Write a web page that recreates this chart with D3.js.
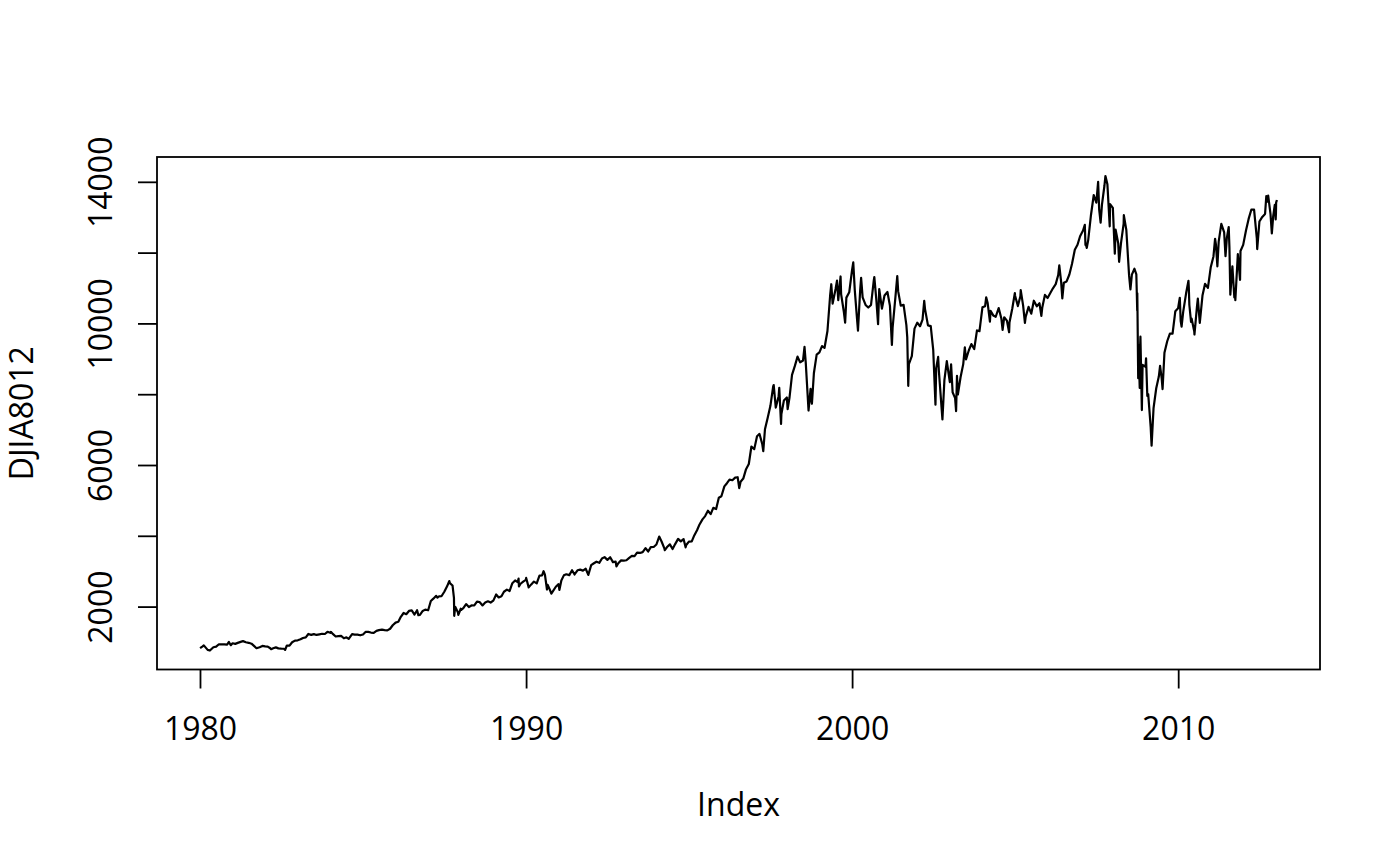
<!DOCTYPE html>
<html>
<head>
<meta charset="utf-8">
<script src="https://cdn.jsdelivr.net/npm/d3@7"></script>
<style>
  html, body { margin: 0; padding: 0; background: #ffffff; }
  svg text { font-family: "Open Sans", "Noto Sans", sans-serif; fill: #000; }
</style>
</head>
<body>
<svg id="chart" width="1400" height="866"></svg>
<script>
// ---- data (DJIA closes) ----
const dates = [
"1980-01-02","1980-01-31","1980-02-13","1980-03-27","1980-04-21","1980-05-30","1980-06-30","1980-07-31","1980-08-29","1980-09-30","1980-10-31","1980-11-20","1980-12-11","1980-12-31",
"1981-01-30","1981-02-27","1981-03-31","1981-04-27","1981-05-29","1981-06-30","1981-07-31","1981-08-31","1981-09-25","1981-10-30","1981-11-30","1981-12-31",
"1982-01-29","1982-02-26","1982-03-08","1982-03-31","1982-04-30","1982-05-28","1982-06-30","1982-07-30","1982-08-12","1982-08-31","1982-09-30","1982-10-29","1982-11-30","1982-12-31",
"1983-01-31","1983-02-28","1983-03-31","1983-04-29","1983-05-31","1983-06-30","1983-07-29","1983-08-31","1983-09-30","1983-10-31","1983-11-29","1983-12-30",
"1984-01-06","1984-01-31","1984-02-29","1984-03-30","1984-04-30","1984-05-31","1984-06-29","1984-07-24","1984-08-31","1984-09-28","1984-10-31","1984-11-30","1984-12-31",
"1985-01-31","1985-02-28","1985-03-29","1985-04-30","1985-05-31","1985-06-28","1985-07-31","1985-08-30","1985-09-30","1985-10-31","1985-11-29","1985-12-31",
"1986-01-31","1986-02-28","1986-03-31","1986-04-30","1986-05-30","1986-06-30","1986-07-31","1986-08-29","1986-09-12","1986-09-30","1986-10-31","1986-11-28","1986-12-31",
"1987-01-30","1987-02-27","1987-03-31","1987-04-14","1987-04-30","1987-05-29","1987-06-30","1987-07-31","1987-08-25","1987-08-31","1987-09-30","1987-10-16","1987-10-19","1987-10-30","1987-11-30","1987-12-04","1987-12-31",
"1988-01-08","1988-01-29","1988-02-29","1988-03-31","1988-04-29","1988-05-31","1988-06-30","1988-07-29","1988-08-31","1988-09-30","1988-10-31","1988-11-30","1988-12-30",
"1989-01-31","1989-02-28","1989-03-31","1989-04-28","1989-05-31","1989-06-30","1989-07-31","1989-08-31","1989-09-29","1989-10-09","1989-10-13","1989-10-31","1989-11-30","1989-12-29",
"1990-01-02","1990-01-30","1990-02-28","1990-03-30","1990-04-30","1990-05-31","1990-06-29","1990-07-16","1990-07-31","1990-08-23","1990-08-31","1990-09-28","1990-10-11","1990-10-31","1990-11-30","1990-12-31",
"1991-01-09","1991-01-31","1991-02-28","1991-03-28","1991-04-30","1991-05-31","1991-06-28","1991-07-31","1991-08-30","1991-09-30","1991-10-31","1991-11-29","1991-12-31",
"1992-01-31","1992-02-28","1992-03-31","1992-04-30","1992-05-29","1992-06-30","1992-07-31","1992-08-31","1992-09-30","1992-10-09","1992-10-30","1992-11-30","1992-12-31",
"1993-01-29","1993-02-26","1993-03-31","1993-04-30","1993-05-28","1993-06-30","1993-07-30","1993-08-31","1993-09-30","1993-10-29","1993-11-30","1993-12-31",
"1994-01-31","1994-02-28","1994-03-31","1994-04-04","1994-04-29","1994-05-31","1994-06-30","1994-07-29","1994-08-31","1994-09-30","1994-10-31","1994-11-23","1994-11-30","1994-12-30",
"1995-01-31","1995-02-28","1995-03-31","1995-04-28","1995-05-31","1995-06-30","1995-07-31","1995-08-31","1995-09-29","1995-10-31","1995-11-30","1995-12-29",
"1996-01-31","1996-02-29","1996-03-29","1996-04-30","1996-05-31","1996-06-28","1996-07-16","1996-07-31","1996-08-30","1996-09-30","1996-10-31","1996-11-29","1996-12-31",
"1997-01-31","1997-02-28","1997-03-31","1997-04-11","1997-04-30","1997-05-30","1997-06-30","1997-07-31","1997-08-06","1997-08-29","1997-09-30","1997-10-07","1997-10-27","1997-10-31","1997-11-28","1997-12-31",
"1998-01-09","1998-01-30","1998-02-27","1998-03-31","1998-04-30","1998-05-29","1998-06-30","1998-07-17","1998-07-31","1998-08-31","1998-09-23","1998-09-30","1998-10-08","1998-10-30","1998-11-30","1998-12-31",
"1999-01-29","1999-02-26","1999-03-31","1999-04-30","1999-05-13","1999-05-28","1999-06-30","1999-07-16","1999-07-30","1999-08-25","1999-08-31","1999-09-30","1999-10-15","1999-10-29","1999-11-30","1999-12-31",
"2000-01-14","2000-01-31","2000-02-28","2000-03-07","2000-03-31","2000-04-11","2000-04-28","2000-05-31","2000-06-30","2000-07-31","2000-08-31","2000-09-06","2000-09-29","2000-10-18","2000-10-31","2000-11-30","2000-12-29",
"2001-01-31","2001-02-28","2001-03-22","2001-03-30","2001-04-30","2001-05-21","2001-05-31","2001-06-29","2001-07-31","2001-08-31","2001-09-10","2001-09-21","2001-09-28","2001-10-31","2001-11-30","2001-12-31",
"2002-01-31","2002-02-28","2002-03-19","2002-03-28","2002-04-30","2002-05-31","2002-06-28","2002-07-23","2002-07-31","2002-08-22","2002-08-30","2002-09-30","2002-10-09","2002-10-31","2002-11-27","2002-11-29","2002-12-31",
"2003-01-14","2003-01-31","2003-02-28","2003-03-11","2003-03-21","2003-03-31","2003-04-30","2003-05-30","2003-06-17","2003-06-30","2003-07-31","2003-08-29","2003-09-30","2003-10-31","2003-11-28","2003-12-31",
"2004-01-30","2004-02-11","2004-02-27","2004-03-24","2004-03-31","2004-04-30","2004-05-28","2004-06-30","2004-07-30","2004-08-13","2004-08-31","2004-09-30","2004-10-25","2004-10-29","2004-11-30","2004-12-28","2004-12-31",
"2005-01-31","2005-02-28","2005-03-04","2005-03-31","2005-04-20","2005-04-29","2005-05-31","2005-06-30","2005-07-29","2005-08-31","2005-09-30","2005-10-21","2005-10-31","2005-11-30","2005-12-30",
"2006-01-31","2006-02-28","2006-03-31","2006-04-28","2006-05-10","2006-05-31","2006-06-13","2006-06-30","2006-07-31","2006-08-31","2006-09-29","2006-10-31","2006-11-30","2006-12-29",
"2007-01-31","2007-02-20","2007-02-27","2007-02-28","2007-03-14","2007-03-30","2007-04-30","2007-05-31","2007-06-29","2007-07-19","2007-07-31","2007-08-16","2007-08-31","2007-09-28","2007-10-09","2007-10-31","2007-11-26","2007-11-30","2007-12-31",
"2008-01-22","2008-01-31","2008-02-29","2008-03-10","2008-03-31","2008-04-30","2008-05-02","2008-05-30","2008-06-30","2008-07-15","2008-07-31","2008-08-29","2008-09-19","2008-09-29","2008-09-30","2008-10-10","2008-10-13","2008-10-27","2008-10-31","2008-11-04","2008-11-20","2008-11-28","2008-12-31",
"2009-01-06","2009-01-20","2009-01-30","2009-02-27","2009-03-09","2009-03-31","2009-04-30","2009-05-29","2009-06-12","2009-06-30","2009-07-10","2009-07-31","2009-08-31","2009-09-30","2009-10-30","2009-11-30","2009-12-31",
"2010-01-19","2010-01-29","2010-02-08","2010-02-26","2010-03-31","2010-04-26","2010-04-30","2010-05-06","2010-05-25","2010-05-31","2010-06-30","2010-07-02","2010-07-30","2010-08-09","2010-08-31","2010-09-30","2010-10-29","2010-11-30","2010-12-31",
"2011-01-31","2011-02-18","2011-02-28","2011-03-16","2011-03-31","2011-04-29","2011-05-31","2011-06-15","2011-06-30","2011-07-21","2011-07-29","2011-08-08","2011-08-31","2011-09-22","2011-09-30","2011-10-03","2011-10-31","2011-11-25","2011-11-30","2011-12-30",
"2012-01-31","2012-02-29","2012-03-30","2012-04-30","2012-05-31","2012-06-04","2012-06-29","2012-07-31","2012-08-31","2012-09-14","2012-09-28","2012-10-05","2012-10-31","2012-11-15","2012-11-30","2012-12-18","2012-12-28","2012-12-31",
"2013-01-02","2013-01-11"
];
const closes = [
824,876,904,777,759,851,868,935,933,932,925,1000,909,964,
947,975,1004,1024,992,977,952,882,824,853,889,875,
871,824,795,823,848,820,812,809,777,901,896,992,1039,1047,
1076,1113,1130,1226,1200,1222,1199,1216,1233,1225,1287,1259,
1287,1221,1155,1165,1171,1105,1132,1087,1224,1207,1207,1189,1212,
1287,1284,1267,1258,1315,1336,1348,1334,1329,1374,1472,1547,
1571,1710,1819,1784,1877,1893,1775,1898,1759,1768,1878,1914,1896,
2158,2224,2305,2252,2286,2292,2419,2572,2722,2663,2596,2247,1739,1994,1834,1767,1939,
1911,1958,2072,1988,2032,2031,2142,2129,2032,2113,2149,2115,2169,
2342,2258,2294,2419,2480,2440,2661,2737,2693,2791,2569,2645,2706,2753,
2810,2543,2627,2707,2657,2877,2881,2999,2905,2483,2614,2453,2365,2442,2560,2634,
2470,2736,2882,2914,2888,3028,2907,3025,3044,3017,3069,2895,3169,
3224,3268,3236,3359,3397,3319,3394,3257,3272,3136,3226,3306,3301,
3310,3371,3435,3428,3527,3516,3540,3651,3555,3681,3684,3754,
3978,3832,3636,3594,3682,3758,3625,3765,3913,3843,3908,3674,3739,3834,
3844,4011,4158,4321,4465,4556,4708,4611,4789,4756,5075,5117,
5395,5486,5587,5569,5643,5655,5346,5529,5616,5882,6029,6522,6448,
6813,6878,6584,6391,7009,7331,7673,8223,8259,7622,7945,8178,7161,7442,7823,7908,
7580,7907,8546,8800,9063,8900,8952,9338,8883,7539,8154,7843,7732,8592,9117,9181,
9359,9307,9786,10789,11107,10560,10971,11209,10655,11326,10829,10337,10019,10729,10878,11497,
11723,10941,10039,9796,10922,11287,10734,10522,10448,10522,11215,11310,10651,9976,10971,10415,10788,
10887,10495,9390,9879,10735,11337,10912,10502,10523,9950,9606,8236,8848,9075,9852,10022,
9920,10106,10635,10404,9946,9925,9243,7702,8737,9053,8664,7592,7286,8397,8932,8896,8342,
8843,8054,7891,7524,8522,7992,8480,8850,9323,8985,9234,9416,9275,9801,9782,10454,
10488,10737,10584,10048,10358,10226,10188,10435,10140,9815,10174,10080,9750,10027,10428,10854,10783,
10490,10766,10941,10504,10012,10193,10467,10275,10641,10482,10569,10215,10440,10806,10718,
10865,10993,11109,11367,11642,11168,10706,11150,11186,11381,11679,12081,12221,12463,
12622,12786,12216,12269,12133,12354,13063,13628,13409,14000,13212,12846,13358,13896,14165,13930,12743,13372,13265,
11971,12650,12266,11741,12263,12820,13058,12638,11350,10963,11378,11544,11388,10365,10851,8451,9388,8176,9325,9625,7552,8829,8776,
9015,7950,8001,7063,6547,7609,8168,8500,8799,8447,8146,9172,9496,9712,9713,10345,10428,
10725,10067,9908,10325,10857,11205,11009,10520,10044,10137,9774,9686,10466,10698,10015,10788,11118,11006,11578,
11892,12391,12226,11613,12320,12811,12570,11897,12414,12724,12143,10810,11614,10734,10913,10655,11955,11231,12046,12218,
12633,12952,13212,13214,12393,12101,12880,13009,13091,13594,13437,13610,13096,12543,13026,13351,12938,13104,
13412,13488
];
const xTickYears = [1980, 1990, 2000, 2010];
const yTickValues = [2000, 4000, 6000, 8000, 10000, 12000, 14000];
const yLabelValues = [2000, 6000, 10000, 14000]; // labels R keeps (others would overlap)
const xTitle = "Index";
const yTitle = "DJIA8012";

// ---- layout ----
const svg = d3.select("#chart");
const margin = {left: 157, top: 157, right: 80, bottom: 196.5};
const W = 1400 - margin.left - margin.right;
const H = 866 - margin.top - margin.bottom;
const parse = d3.timeParse("%Y-%m-%d");
const data = dates.map((d, i) => ({date: parse(d), value: closes[i]}));

// R-style 4% padding of the data range
const xExt = d3.extent(data, d => +d.date);
const xPad = (xExt[1] - xExt[0]) * 0.04;
const x = d3.scaleTime()
  .domain([new Date(xExt[0] - xPad), new Date(xExt[1] + xPad)])
  .range([0, W]);
const yExt = d3.extent(data, d => d.value);
const yPad = (yExt[1] - yExt[0]) * 0.04;
const y = d3.scaleLinear()
  .domain([yExt[0] - yPad, yExt[1] + yPad])
  .range([H, 0]);

const g = svg.append("g").attr("transform", `translate(${margin.left},${margin.top})`);

// line
const line = d3.line().x(d => x(d.date)).y(d => y(d.value));
g.append("path")
  .datum(data)
  .attr("fill", "none")
  .attr("stroke", "#000")
  .attr("stroke-width", 2.2)
  .attr("stroke-linejoin", "round")
  .attr("d", line);

// box
g.append("rect")
  .attr("x", 0).attr("y", 0).attr("width", W).attr("height", H)
  .attr("fill", "none").attr("stroke", "#000").attr("stroke-width", 1.8);

// x axis
const xAxis = d3.axisBottom(x)
  .tickValues(xTickYears.map(yr => new Date(yr, 0, 1)))
  .tickFormat(d3.timeFormat("%Y"))
  .tickSize(19)
  .tickSizeOuter(0);
const gx = g.append("g").attr("transform", `translate(0,${H})`).call(xAxis);
gx.select(".domain").remove();
gx.selectAll(".tick line").attr("stroke", "#000").attr("stroke-width", 1.8);
gx.selectAll(".tick text")
  .attr("y", 70).attr("dy", 0)
  .attr("font-size", 32)
  .style("font-family", '"Open Sans", "Noto Sans", sans-serif');

// y axis
const yAxis = d3.axisLeft(y)
  .tickValues(yTickValues)
  .tickFormat(v => yLabelValues.includes(v) ? d3.format("d")(v) : "")
  .tickSize(19)
  .tickSizeOuter(0);
const gy = g.append("g").call(yAxis);
gy.select(".domain").remove();
gy.selectAll(".tick line").attr("stroke", "#000").attr("stroke-width", 1.8);
gy.selectAll(".tick text")
  .attr("x", 0).attr("dy", 0)
  .attr("text-anchor", "middle")
  .attr("transform", "translate(-45,0) rotate(-90)")
  .attr("font-size", 32)
  .style("font-family", '"Open Sans", "Noto Sans", sans-serif');

// titles
svg.append("text")
  .attr("x", margin.left + W / 2).attr("y", 816)
  .attr("text-anchor", "middle")
  .attr("font-size", 32)
  .text(xTitle);
svg.append("text")
  .attr("transform", `translate(33,${margin.top + H / 2}) rotate(-90)`)
  .attr("text-anchor", "middle")
  .attr("font-size", 32)
  .text(yTitle);
</script>
</body>
</html>
